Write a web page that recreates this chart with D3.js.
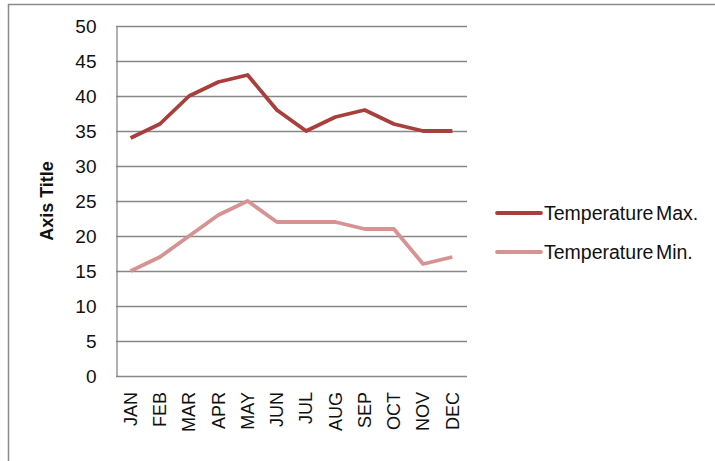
<!DOCTYPE html>
<html>
<head>
<meta charset="utf-8">
<script src="https://cdn.jsdelivr.net/npm/d3@7"></script>
<style>
  body { margin: 0; background: #fff; }
  svg { display: block; font-family: "Liberation Sans", Arial, sans-serif; }
</style>
</head>
<body>
<div class="chart"></div>
<script>
// chart data
const months = ['JAN','FEB','MAR','APR','MAY','JUN','JUL','AUG','SEP','OCT','NOV','DEC'];
const tempMax = [34, 36, 40, 42, 43, 38, 35, 37, 38, 36, 35, 35];
const tempMin = [15, 17, 20, 23, 25, 22, 22, 22, 21, 21, 16, 17];
const yTicks = [0, 5, 10, 15, 20, 25, 30, 35, 40, 45, 50];
const seriesNames = ['Temperature Max.', 'Temperature Min.'];
const seriesColors = ['#a83f3c', '#d69391'];

const width = 715, height = 461;
const plotLeft = 116, plotRight = 467, plotTop = 26, plotBottom = 376;

const svg = d3.select('.chart')
  .append('svg')
  .attr('width', width)
  .attr('height', height);

// outer chart frame (only left and top edges visible)
svg.append('rect')
  .attr('x', 8.5)
  .attr('y', 4.5)
  .attr('width', 800)
  .attr('height', 600)
  .style('fill', 'none')
  .style('stroke', '#8a8a8a')
  .style('stroke-width', 1.5);

const x = d3.scaleBand().domain(months).range([plotLeft, plotRight]);
const y = d3.scaleLinear().domain([0, 50]).range([plotBottom, plotTop]);

// gridlines
svg.append('g')
  .selectAll('line')
  .data(yTicks)
  .join('line')
  .attr('x1', plotLeft)
  .attr('x2', plotRight)
  .attr('y1', d => Math.round(y(d)) + 0.5)
  .attr('y2', d => Math.round(y(d)) + 0.5)
  .style('stroke', '#878787')
  .style('stroke-width', 1.3);

// y axis
const yAxis = svg.append('g')
  .attr('transform', `translate(${plotLeft + 0.5},0)`)
  .call(d3.axisLeft(y).tickValues(yTicks).tickSize(0).tickPadding(20));
yAxis.select('.domain').style('stroke', '#878787').style('stroke-width', 1.3);
yAxis.selectAll('text')
  .style('font-size', '19px')
  .style('font-family', '"Liberation Sans", Arial, sans-serif')
  .style('fill', '#111');

// x axis labels (rotated)
const xAxis = svg.append('g')
  .attr('transform', `translate(0,${plotBottom})`)
  .call(d3.axisBottom(x).tickSize(0).tickPadding(0));
xAxis.select('.domain').remove();
xAxis.selectAll('text')
  .attr('transform', 'rotate(-90)')
  .attr('x', -16)
  .attr('y', 0)
  .attr('dy', '0.35em')
  .style('text-anchor', 'end')
  .style('font-size', '18px')
  .style('font-family', '"Liberation Sans Narrow", "Liberation Sans", Arial, sans-serif')
  .style('fill', '#111');

// axis title
svg.append('text')
  .attr('transform', `translate(53,${(plotTop + plotBottom) / 2}) rotate(-90)`)
  .attr('text-anchor', 'middle')
  .style('font-size', '18px')
  .style('font-weight', 'bold')
  .style('fill', '#111')
  .text('Axis Title');

// lines
const line = d3.line()
  .x((d, i) => x(months[i]) + x.bandwidth() / 2)
  .y(d => y(d));

[tempMax, tempMin].forEach((s, i) => {
  svg.append('path')
    .datum(s)
    .attr('d', line)
    .style('fill', 'none')
    .style('stroke', seriesColors[i])
    .style('stroke-width', 3.8)
    .style('stroke-linejoin', 'round');
});

// legend
const legend = svg.append('g')
  .selectAll('g')
  .data(seriesNames)
  .join('g')
  .attr('transform', (d, i) => `translate(497,${213 + i * 39})`);

legend.append('line')
  .attr('x1', 0)
  .attr('x2', 44)
  .style('stroke', (d, i) => seriesColors[i])
  .style('stroke-width', 3.8)
  .style('stroke-linecap', 'round');

legend.append('text')
  .attr('x', 47)
  .attr('dy', '0.35em')
  .style('font-size', '19.5px')
  .style('word-spacing', '-3px')
  .style('fill', '#111')
  .text(d => d);
</script>
</body>
</html>
